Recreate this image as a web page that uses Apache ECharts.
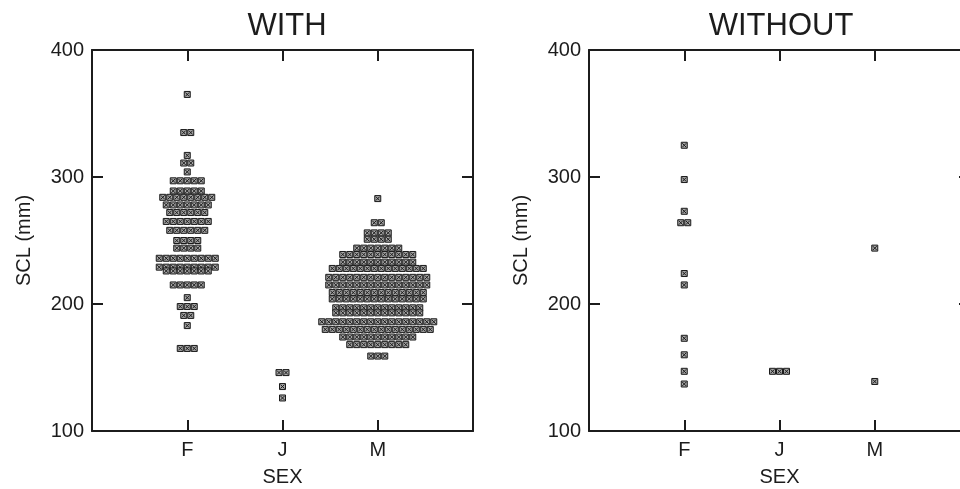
<!DOCTYPE html>
<html>
<head>
<meta charset="utf-8">
<script src="https://cdn.jsdelivr.net/npm/echarts@6/dist/echarts.min.js"></script>
<style>
html, body { margin: 0; padding: 0; background: #fff; }
#chart { width: 960px; height: 489px; }
</style>
</head>
<body>
<div id="chart"></div>
<script>
// categories on the x axis
var sexes = ['F', 'J', 'M']
var yTicks = [100, 200, 300, 400]

// rows of the dot plot: [SCL value, number of animals in the row]
var withF = [[365,1],[335,2],[317,1],[311,2],[304,1],[297,5],[289,5],[284,8],[278,7],[272,6],[265,7],[258,6],[250,4],[244,4],[236,9],[229,9],[226,7],[215,5],[205,1],[198,3],[191,2],[183,1],[165,3]]
var withJ = [[146,2],[135,1],[126,1]]
var withM = [[283,1],[264,2],[256,4],[251,4],[244,7],[239,11],[233,11],[228,14],[221,15],[215,15],[209,14],[204,14],[197,13],[193,13],[186,17],[180,16],[174,11],[168,9],[159,3]]

var withoutF = [[325,1],[298,1],[273,1],[264,2],[224,1],[215,1],[173,1],[160,1],[147,1],[137,1]]
var withoutJ = [[147,3]]
var withoutM = [[244,1],[139,1]]

var ink = '#1c1c1c'
var markSize = 7

function points(groups) {
    var out = []
    groups.forEach(function (rows, ci) {
        rows.forEach(function (r) {
            for (var k = 0; k < r[1]; k++) {
                out.push([ci + 1, r[0], k, r[1]])
            }
        })
    })
    return out
}

function renderMark(params, api) {
    var c = api.coord([api.value(0), api.value(1)])
    var k = api.value(2), n = api.value(3)
    var x = c[0] + (k - (n - 1) / 2) * markSize - markSize / 2
    var y = c[1] - markSize / 2
    var s = markSize
    return {
        type: 'group',
        children: [
            { type: 'rect', shape: { x: x + 0.5, y: y + 0.5, width: s - 1, height: s - 1 },
              style: { fill: '#a6a6a6', stroke: '#1a1a1a', lineWidth: 1 } },
            { type: 'line', shape: { x1: x + 1.5, y1: y + 1.5, x2: x + s - 1.5, y2: y + s - 1.5 },
              style: { stroke: '#1a1a1a', lineWidth: 1 } },
            { type: 'line', shape: { x1: x + s - 1.5, y1: y + 1.5, x2: x + 1.5, y2: y + s - 1.5 },
              style: { stroke: '#1a1a1a', lineWidth: 1 } }
        ]
    }
}

function xAxisOf(grid, pos) {
    var bottom = pos == 'bottom'
    return {
        type: 'value', gridIndex: grid, position: pos, min: 0, max: 4, interval: 1,
        name: bottom ? 'SEX' : '', nameLocation: 'middle', nameGap: 36,
        nameTextStyle: { fontSize: 20, color: ink, fontFamily: 'Liberation Sans' },
        axisLine: { show: true, onZero: false, lineStyle: { color: ink, width: 2 } },
        axisTick: { show: true, inside: true, length: 11, lineStyle: { color: ink, width: 2 } },
        axisLabel: {
            show: bottom, margin: 9, fontSize: 20, color: ink, fontFamily: 'Liberation Sans',
            formatter: function (v) { return sexes[v - 1] || '' }
        },
        splitLine: { show: false }
    }
}

function yAxisOf(grid, pos) {
    var left = pos == 'left'
    return {
        type: 'value', gridIndex: grid, position: pos,
        min: yTicks[0], max: yTicks[yTicks.length - 1], interval: 100,
        name: left ? 'SCL (mm)' : '', nameLocation: 'middle', nameGap: 58,
        nameTextStyle: { fontSize: 20, color: ink, fontFamily: 'Liberation Sans' },
        axisLine: { show: true, onZero: false, lineStyle: { color: ink, width: 2 } },
        axisTick: { show: true, inside: true, length: 11, lineStyle: { color: ink, width: 2 } },
        axisLabel: { show: left, margin: 8, fontSize: 20, color: ink, fontFamily: 'Liberation Sans' },
        splitLine: { show: false }
    }
}

var chart = echarts.init(document.getElementById('chart'))
var option = {
    animation: false,
    title: [
        { text: 'WITH', left: 282, top: 6, textAlign: 'center',
          textStyle: { fontSize: 31, fontWeight: 'normal', color: ink, fontFamily: 'Liberation Sans' } },
        { text: 'WITHOUT', left: 776, top: 6, textAlign: 'center',
          textStyle: { fontSize: 31, fontWeight: 'normal', color: ink, fontFamily: 'Liberation Sans' } }
    ],
    grid: [
        { left: 92, top: 50, width: 381, height: 381, outerBoundsMode: 'none' },
        { left: 589, top: 50, width: 381, height: 381, outerBoundsMode: 'none' }
    ],
    xAxis: [xAxisOf(0, 'bottom'), xAxisOf(0, 'top'), xAxisOf(1, 'bottom'), xAxisOf(1, 'top')],
    yAxis: [yAxisOf(0, 'left'), yAxisOf(0, 'right'), yAxisOf(1, 'left'), yAxisOf(1, 'right')],
    series: [
        { type: 'custom', xAxisIndex: 0, yAxisIndex: 0, renderItem: renderMark,
          data: points([withF, withJ, withM]) },
        { type: 'custom', xAxisIndex: 2, yAxisIndex: 2, renderItem: renderMark,
          data: points([withoutF, withoutJ, withoutM]) }
    ]
}
chart.setOption(option)
</script>
</body>
</html>
